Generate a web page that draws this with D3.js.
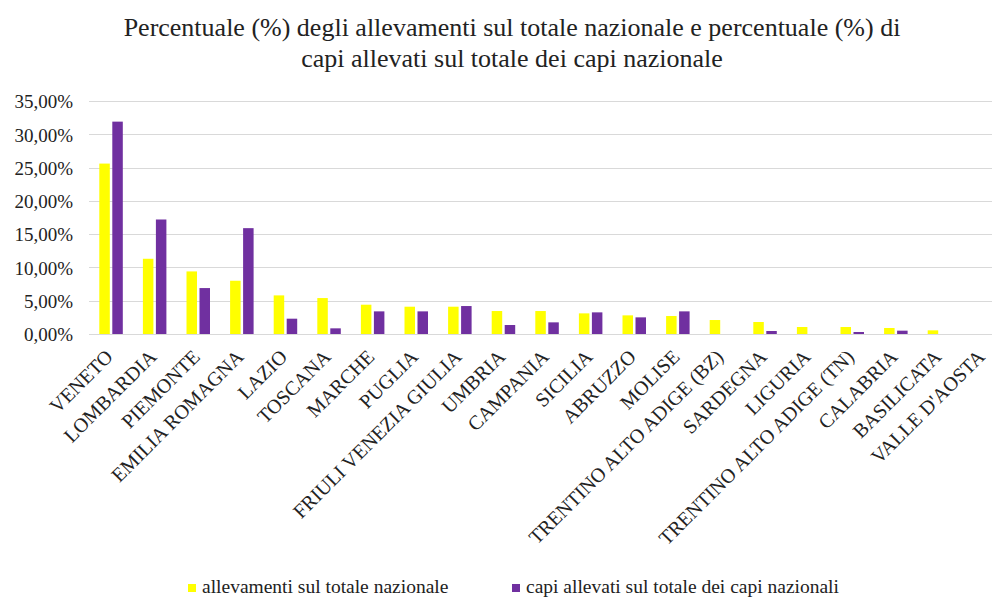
<!DOCTYPE html>
<html>
<head>
<meta charset="utf-8">
<script src="https://cdn.jsdelivr.net/npm/d3@7"></script>
<style>
  html, body { margin: 0; padding: 0; background: #fff; }
  svg { display: block; }
  text { font-family: "Liberation Serif", "Times New Roman", serif; fill: #222; }
</style>
</head>
<body>
<svg id="chart" width="992" height="597"></svg>
<script>
const regions = ["VENETO", "LOMBARDIA", "PIEMONTE", "EMILIA ROMAGNA", "LAZIO", "TOSCANA", "MARCHE",
  "PUGLIA", "FRIULI VENEZIA GIULIA", "UMBRIA", "CAMPANIA", "SICILIA", "ABRUZZO", "MOLISE",
  "TRENTINO ALTO ADIGE (BZ)", "SARDEGNA", "LIGURIA", "TRENTINO ALTO ADIGE (TN)", "CALABRIA",
  "BASILICATA", "VALLE D'AOSTA"];
const allevamenti = [25.6, 11.3, 9.4, 8.0, 5.8, 5.4, 4.4, 4.1, 4.1, 3.45, 3.45, 3.1, 2.8, 2.7,
  2.1, 1.8, 1.05, 1.05, 0.9, 0.55, 0.0];
const capi = [31.9, 17.2, 6.9, 15.9, 2.3, 0.85, 3.4, 3.4, 4.2, 1.35, 1.75, 3.25, 2.5, 3.4,
  0.0, 0.45, 0.0, 0.3, 0.5, 0.0, 0.0];
const yTicks = [0, 5, 10, 15, 20, 25, 30, 35];
const seriesNames = ["allevamenti sul totale nazionale", "capi allevati sul totale dei capi nazionali"];
const colors = ["#FFFF00", "#7030A0"];

const svg = d3.select("#chart");

const x = d3.scaleBand().domain(regions).range([89.2, 1004.8]).padding(0);
const y = d3.scaleLinear().domain([0, 35]).range([334, 101]);
const fmt = v => d3.format(".2f")(v).replace(".", ",") + "%";

// title
const title = svg.append("text").attr("text-anchor", "middle").attr("font-size", 26);
title.append("tspan").attr("x", 512).attr("y", 36)
  .text("Percentuale (%) degli allevamenti sul totale nazionale e percentuale (%) di");
title.append("tspan").attr("x", 512).attr("y", 67)
  .text("capi allevati sul totale dei capi nazionale");

// gridlines
svg.append("g").selectAll("line").data(yTicks).join("line")
  .attr("x1", 89).attr("x2", 1005)
  .attr("y1", d => Math.round(y(d)) + 0.5).attr("y2", d => Math.round(y(d)) + 0.5)
  .attr("stroke", "#d9d9d9").attr("stroke-width", 1);

// y axis labels
const yAxis = d3.axisLeft(y).tickValues(yTicks).tickFormat(fmt).tickSize(0).tickPadding(0);
svg.append("g").attr("transform", "translate(73,0)").call(yAxis)
  .call(g => g.select(".domain").remove())
  .selectAll("text").attr("font-size", 19).attr("font-family", "Liberation Sans, Arial, sans-serif")
  .attr("fill", "#333").attr("dy", "0.36em");

// bars
const barW = 10.5;
const g = svg.append("g");
g.selectAll("rect.a").data(regions).join("rect").attr("class", "a")
  .attr("x", (d) => x(d) + x.bandwidth() / 2 - barW - 1.2)
  .attr("width", barW)
  .attr("y", (d, i) => y(allevamenti[i]))
  .attr("height", (d, i) => y(0) - y(allevamenti[i]))
  .attr("fill", colors[0]);
g.selectAll("rect.c").data(regions).join("rect").attr("class", "c")
  .attr("x", (d) => x(d) + x.bandwidth() / 2 + 1.3)
  .attr("width", barW)
  .attr("y", (d, i) => y(capi[i]))
  .attr("height", (d, i) => y(0) - y(capi[i]))
  .attr("fill", colors[1]);

// x axis labels
const xAxis = d3.axisBottom(x).tickSize(0).tickPadding(0);
svg.append("g").attr("transform", "translate(0,334)").call(xAxis)
  .call(g => g.select(".domain").remove())
  .selectAll("text")
  .attr("font-size", 20).attr("font-family", "Liberation Serif, serif").attr("fill", "#222")
  .attr("text-anchor", "end").attr("dy", null).attr("y", 0).attr("x", 0)
  .attr("transform", "translate(3,24) rotate(-45)");

// legend
const legend = svg.append("g");
const legX = [188, 512];
seriesNames.forEach((name, i) => {
  legend.append("rect").attr("x", legX[i]).attr("y", 584).attr("width", 8).attr("height", 8).attr("fill", colors[i]);
  legend.append("text").attr("x", legX[i] + 14).attr("y", 593).attr("font-size", 19.5).text(name);
});
</script>
</body>
</html>
